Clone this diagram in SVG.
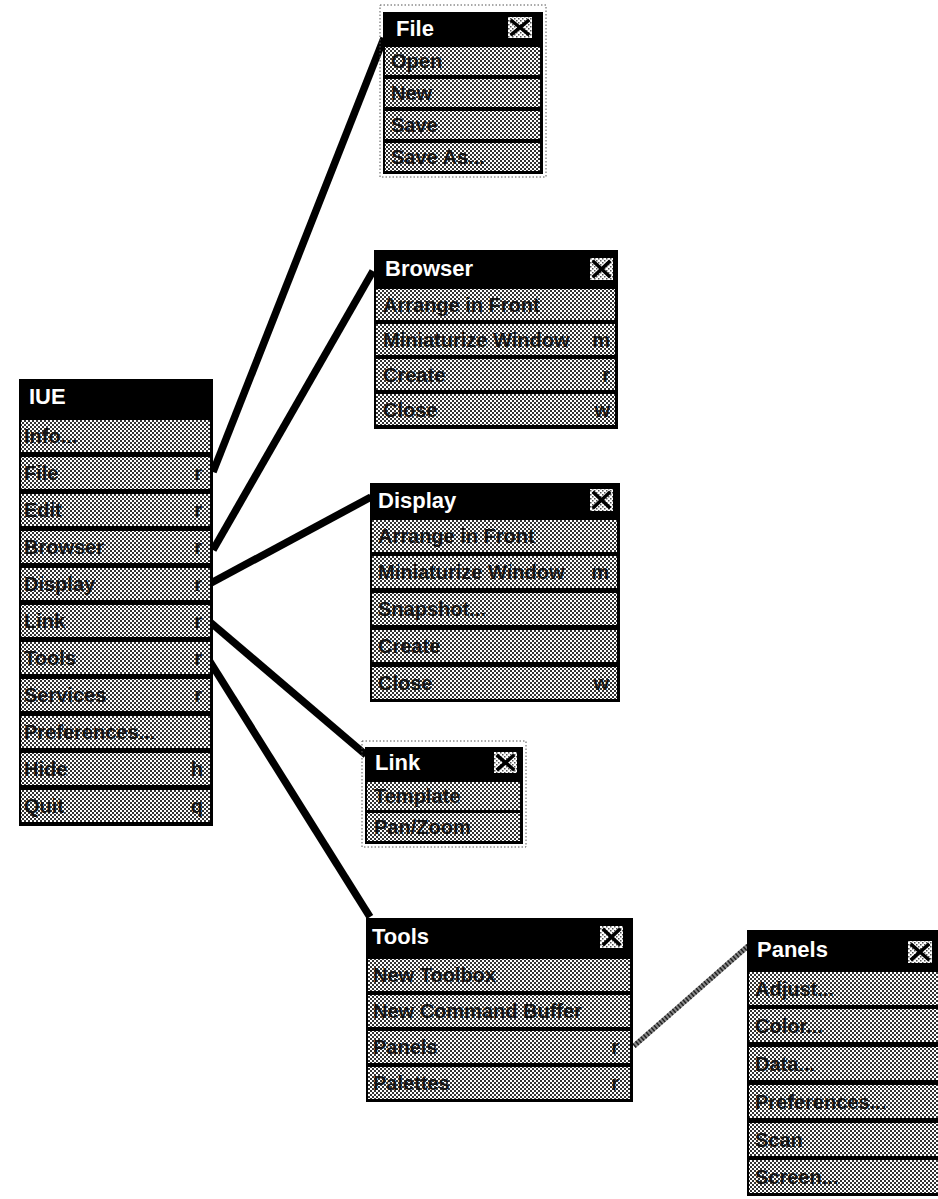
<svg xmlns="http://www.w3.org/2000/svg" width="938" height="1199" viewBox="0 0 938 1199">
  <defs>
    <!-- halftone fill used by menu rows -->
    <pattern id="dither" width="4" height="4" patternUnits="userSpaceOnUse">
      <rect width="4" height="4" fill="#ffffff"/>
      <rect x="0" y="0" width="2" height="2" fill="#333333"/>
      <rect x="2" y="2" width="2" height="2" fill="#333333"/>
    </pattern>
    <!-- lighter halftone for close boxes -->
    <pattern id="dither-light" width="4" height="4" patternUnits="userSpaceOnUse">
      <rect width="4" height="4" fill="#ffffff"/>
      <rect x="0" y="0" width="1.5" height="1.5" fill="#555555"/>
      <rect x="2" y="2" width="1.5" height="1.5" fill="#555555"/>
    </pattern>
    <style>
      .bg { fill: #000000; }
      .row { fill: url(#dither); }
      .ttl { font-family: "Liberation Sans", Arial, sans-serif; font-weight: bold; font-size: 22px; fill: #ffffff; }
      .itm { font-family: "Liberation Sans", Arial, sans-serif; font-weight: bold; font-size: 20px; fill: #151515; }
      .key { font-family: "Liberation Sans", Arial, sans-serif; font-weight: bold; font-size: 20px; fill: #151515; text-anchor: end; }
      .xbox { fill: url(#dither-light); }
      .xmark { stroke: #000000; stroke-width: 3.5; stroke-linecap: square; }
      .frame { fill: none; stroke: #555555; stroke-width: 1; stroke-dasharray: 1.5 2; }
      .wire { fill: none; stroke: #000000; stroke-width: 7.5; stroke-linecap: butt; }
      .wire-hatch-base { fill: none; stroke: #8a8a8a; stroke-width: 5; }
      .wire-hatch { fill: none; stroke: #222222; stroke-width: 5; stroke-dasharray: 1.5 2; }
    </style>
  </defs>

  <rect width="938" height="1199" fill="#ffffff"/>

  <!-- connectors from the main menu to its submenus -->
  <g id="connectors">
    <path class="wire" d="M213,472 L384,38"/>
    <path class="wire" d="M213,550 L373,271"/>
    <path class="wire" d="M211,583 L371,497"/>
    <path class="wire" d="M210,622 L366,755"/>
    <path class="wire" d="M207,657 L370,917"/>
    <path class="wire-hatch-base" d="M634,1046 L748,946"/>
    <path class="wire-hatch" d="M634,1046 L748,946"/>
  </g>

  <!-- main menu -->
  <g id="menu-ive">
    <rect class="bg" x="19" y="379" width="194" height="447"/>
    <text class="ttl" x="29" y="404">IUE</text>
    <rect class="row" x="21" y="420" width="189" height="32"/>
    <rect class="row" x="21" y="457" width="189" height="32"/>
    <rect class="row" x="21" y="494" width="189" height="32"/>
    <rect class="row" x="21" y="531" width="189" height="32"/>
    <rect class="row" x="21" y="568" width="189" height="32"/>
    <rect class="row" x="21" y="605" width="189" height="32"/>
    <rect class="row" x="21" y="642" width="189" height="32"/>
    <rect class="row" x="21" y="679" width="189" height="32"/>
    <rect class="row" x="21" y="716" width="189" height="32"/>
    <rect class="row" x="21" y="753" width="189" height="32"/>
    <rect class="row" x="21" y="790" width="189" height="32"/>
    <text class="itm" x="24" y="443">Info...</text>
    <text class="itm" x="24" y="480">File</text>
    <text class="itm" x="24" y="517">Edit</text>
    <text class="itm" x="24" y="554">Browser</text>
    <text class="itm" x="24" y="591">Display</text>
    <text class="itm" x="24" y="628">Link</text>
    <text class="itm" x="24" y="665">Tools</text>
    <text class="itm" x="24" y="702">Services</text>
    <text class="itm" x="24" y="739">Preferences...</text>
    <text class="itm" x="24" y="776">Hide</text>
    <text class="itm" x="24" y="813">Quit</text>
    <text class="key" x="202" y="480">r</text>
    <text class="key" x="202" y="517">r</text>
    <text class="key" x="202" y="554">r</text>
    <text class="key" x="202" y="591">r</text>
    <text class="key" x="202" y="628">r</text>
    <text class="key" x="202" y="665">r</text>
    <text class="key" x="202" y="702">r</text>
    <text class="key" x="203" y="776">h</text>
    <text class="key" x="203" y="813">q</text>
  </g>

  <!-- File submenu -->
  <g id="menu-file">
    <rect class="frame" x="380" y="5" width="166" height="172"/>
    <rect class="bg" x="383" y="12" width="160" height="162"/>
    <text class="ttl" x="396" y="36">File</text>
    <rect class="xbox" x="508" y="17" width="24" height="21"/>
    <path class="xmark" d="M512,21 L528,34 M528,21 L512,34"/>
    <rect class="row" x="385" y="47" width="155" height="28"/>
    <rect class="row" x="385" y="79" width="155" height="28"/>
    <rect class="row" x="385" y="111" width="155" height="28"/>
    <rect class="row" x="385" y="143" width="155" height="28"/>
    <text class="itm" x="391" y="68">Open</text>
    <text class="itm" x="391" y="100">New</text>
    <text class="itm" x="391" y="132">Save</text>
    <text class="itm" x="391" y="164">Save As...</text>
  </g>

  <!-- Browser submenu -->
  <g id="menu-browser">
    <rect class="bg" x="374" y="250" width="244" height="179"/>
    <text class="ttl" x="385" y="276">Browser</text>
    <rect class="xbox" x="590" y="258" width="23" height="22"/>
    <path class="xmark" d="M594,262 L609,276 M609,262 L594,276"/>
    <rect class="row" x="376" y="289" width="239" height="31"/>
    <rect class="row" x="376" y="324" width="239" height="31"/>
    <rect class="row" x="376" y="359" width="239" height="31"/>
    <rect class="row" x="376" y="394" width="239" height="31"/>
    <text class="itm" x="383" y="312">Arrange in Front</text>
    <text class="itm" x="383" y="347">Miniaturize Window</text>
    <text class="itm" x="383" y="382">Create</text>
    <text class="itm" x="383" y="417">Close</text>
    <text class="key" x="610" y="347">m</text>
    <text class="key" x="610" y="382">r</text>
    <text class="key" x="610" y="417">w</text>
  </g>

  <!-- Display submenu -->
  <g id="menu-display">
    <rect class="bg" x="370" y="483" width="250" height="219"/>
    <text class="ttl" x="378" y="508">Display</text>
    <rect class="xbox" x="590" y="489" width="23" height="22"/>
    <path class="xmark" d="M594,493 L609,507 M609,493 L594,507"/>
    <rect class="row" x="372" y="520" width="245" height="32"/>
    <rect class="row" x="372" y="556" width="245" height="32"/>
    <rect class="row" x="372" y="593" width="245" height="32"/>
    <rect class="row" x="372" y="630" width="245" height="32"/>
    <rect class="row" x="372" y="667" width="245" height="32"/>
    <text class="itm" x="378" y="543">Arrange in Front</text>
    <text class="itm" x="378" y="579">Miniaturize Window</text>
    <text class="itm" x="378" y="616">Snapshot...</text>
    <text class="itm" x="378" y="653">Create</text>
    <text class="itm" x="378" y="690">Close</text>
    <text class="key" x="609" y="579">m</text>
    <text class="key" x="609" y="690">w</text>
  </g>

  <!-- Link submenu -->
  <g id="menu-link">
    <rect class="frame" x="362" y="741" width="164" height="106"/>
    <rect class="bg" x="365" y="747" width="158" height="97"/>
    <text class="ttl" x="375" y="770">Link</text>
    <rect class="xbox" x="494" y="752" width="23" height="21"/>
    <path class="xmark" d="M498,756 L513,769 M513,756 L498,769"/>
    <rect class="row" x="367" y="782" width="153" height="28"/>
    <rect class="row" x="367" y="813" width="153" height="28"/>
    <text class="itm" x="374" y="803">Template</text>
    <text class="itm" x="374" y="834">Pan/Zoom</text>
  </g>

  <!-- Tools submenu -->
  <g id="menu-tools">
    <rect class="bg" x="366" y="918" width="267" height="184"/>
    <text class="ttl" x="372" y="944">Tools</text>
    <rect class="xbox" x="600" y="926" width="23" height="22"/>
    <path class="xmark" d="M604,930 L619,944 M619,930 L604,944"/>
    <rect class="row" x="368" y="959" width="262" height="32"/>
    <rect class="row" x="368" y="995" width="262" height="32"/>
    <rect class="row" x="368" y="1031" width="262" height="32"/>
    <rect class="row" x="368" y="1067" width="262" height="32"/>
    <text class="itm" x="373" y="982">New Toolbox</text>
    <text class="itm" x="373" y="1018">New Command Buffer</text>
    <text class="itm" x="373" y="1054">Panels</text>
    <text class="itm" x="373" y="1090">Palettes</text>
    <text class="key" x="619" y="1054">r</text>
    <text class="key" x="619" y="1090">r</text>
  </g>

  <!-- Panels submenu -->
  <g id="menu-panels">
    <rect class="bg" x="747" y="930" width="201" height="266"/>
    <text class="ttl" x="757" y="957">Panels</text>
    <rect class="xbox" x="908" y="941" width="24" height="22"/>
    <path class="xmark" d="M912,945 L928,959 M928,945 L912,959"/>
    <rect class="row" x="749" y="972" width="200" height="33"/>
    <rect class="row" x="749" y="1009" width="200" height="33"/>
    <rect class="row" x="749" y="1047" width="200" height="33"/>
    <rect class="row" x="749" y="1085" width="200" height="33"/>
    <rect class="row" x="749" y="1123" width="200" height="33"/>
    <rect class="row" x="749" y="1160" width="200" height="33"/>
    <text class="itm" x="755" y="996">Adjust...</text>
    <text class="itm" x="755" y="1033">Color...</text>
    <text class="itm" x="755" y="1071">Data...</text>
    <text class="itm" x="755" y="1109">Preferences...</text>
    <text class="itm" x="755" y="1147">Scan</text>
    <text class="itm" x="755" y="1184">Screen...</text>
  </g>
</svg>
